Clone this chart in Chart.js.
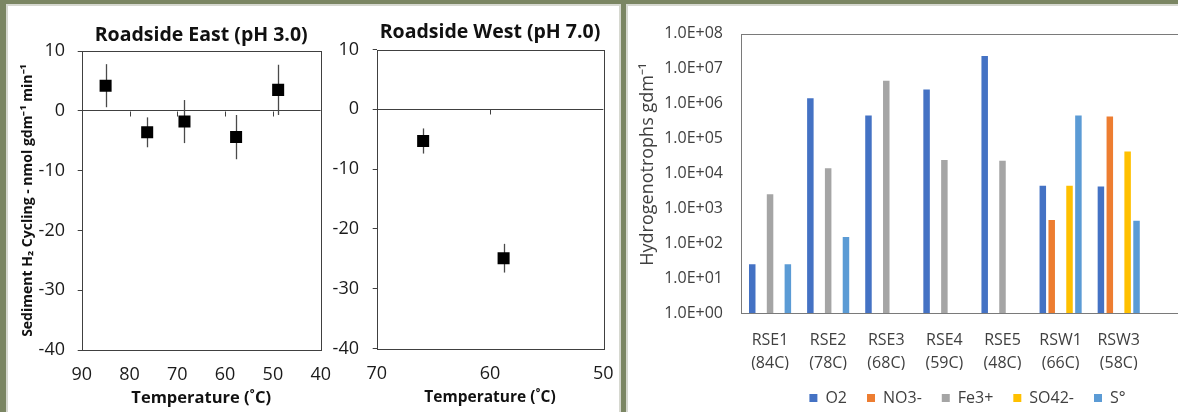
<!DOCTYPE html>
<html><head><meta charset="utf-8">
<script src="https://cdn.jsdelivr.net/npm/chart.js@4"></script>
<style>
html,body{margin:0;padding:0;width:1178px;height:412px;overflow:hidden;background:#7b8663;}
.panel{position:absolute;background:#fff;border:2px solid #d6d8d0;box-sizing:border-box;}
canvas{position:absolute;}
</style></head><body>
<div class="panel" style="left:6px;top:4px;width:615px;height:420px"></div>
<div class="panel" style="left:626px;top:4px;width:600px;height:420px"></div>
<canvas id="c1" width="330" height="406" style="left:7px;top:6px"></canvas>
<canvas id="c2" width="284" height="406" style="left:332px;top:6px"></canvas>
<canvas id="c3" width="679" height="410" style="left:628px;top:6px"></canvas>
<script>
// ---------- data ----------
const eastTemps = [85, 76.3, 68.5, 57.7, 48.9];
const eastRates = [4.2, -3.6, -1.8, -4.4, 3.5];
const eastErrors = [3.6, 2.5, 3.6, 3.7, 4.2];
const westTemps = [65.9, 58.8];
const westRates = [-5.3, -24.9];
const westErrors = [2.1, 2.4];
const rateTicks = [10, 0, -10, -20, -30, -40];
const eastTempTicks = [90, 80, 70, 60, 50, 40];
const westTempTicks = [70, 60, 50];

const siteNames = ['RSE1', 'RSE2', 'RSE3', 'RSE4', 'RSE5', 'RSW1', 'RSW3', '', ''];
const siteTemps = ['(84C)', '(78C)', '(68C)', '(59C)', '(48C)', '(66C)', '(58C)', '', ''];
const o2 =   [25, 1.4e6, 4.5e5, 2.5e6, 2.3e7, 4.4e3, 4.2e3, null, null];
const no3 =  [null, null, null, null, null, 4.6e2, 4.2e5, null, null];
const fe3 =  [2.5e3, 1.4e4, 4.5e6, 2.4e4, 2.3e4, null, null, null, null];
const so4 =  [null, null, null, null, null, 4.4e3, 4.2e4, null, null];
const s0 =   [25, 150, null, null, null, 4.5e5, 4.4e2, null, null];
const logTickValues = [1, 10, 100, 1e3, 1e4, 1e5, 1e6, 1e7, 1e8];
const logTickLabels = ['1.0E+00','1.0E+01','1.0E+02','1.0E+03','1.0E+04','1.0E+05','1.0E+06','1.0E+07','1.0E+08'];
const seriesNames = ['O2', 'NO3-', 'Fe3+', 'SO42-', 'S°'];
const seriesColors = ['#4472C4', '#ED7D31', '#A5A5A5', '#FFC000', '#5B9BD5'];

// ---------- setup ----------
Chart.defaults.font.family = "'Open Sans', sans-serif";
Chart.defaults.font.size = 16;
Chart.defaults.animation = false;

const framePlugin = {
  id: 'frame',
  beforeDatasetsDraw(chart, args, opts) {
    const {ctx, chartArea: a} = chart;
    ctx.save();
    ctx.strokeStyle = opts.color || '#404040';
    ctx.lineWidth = 1;
    ctx.strokeRect(Math.round(a.left) + 0.5, Math.round(a.top) + 0.5,
      Math.round(a.right - a.left), Math.round(a.bottom - a.top));
    ctx.restore();
  }
};
const errorBarPlugin = {
  id: 'errorBars',
  beforeDatasetsDraw(chart, args, opts) {
    const errs = opts.errors; if (!errs) return;
    const {ctx, scales: {x, y}} = chart;
    const pts = chart.data.datasets[0].data;
    ctx.save();
    ctx.strokeStyle = '#4a4a4a';
    ctx.lineWidth = 1.3;
    pts.forEach((p, i) => {
      const px = Math.round(x.getPixelForValue(p.x)) + 0.5;
      ctx.beginPath();
      ctx.moveTo(px, y.getPixelForValue(p.y + errs[i]));
      ctx.lineTo(px, y.getPixelForValue(p.y - errs[i]));
      ctx.stroke();
    });
    ctx.restore();
  }
};
const crossTickPlugin = {
  id: 'crossTicks',
  beforeDatasetsDraw(chart) {
    const {ctx, scales: {x, y}} = chart;
    const y0 = Math.round(y.getPixelForValue(0)) + 0.5;
    ctx.save();
    ctx.strokeStyle = '#404040';
    ctx.lineWidth = 1;
    x.ticks.forEach(t => {
      if (t.value === x.min || t.value === x.max) return;
      const px = Math.round(x.getPixelForValue(t.value)) + 0.5;
      ctx.beginPath(); ctx.moveTo(px, y0); ctx.lineTo(px, y0 + 5); ctx.stroke();
    });
    ctx.restore();
  }
};

function scatterChart(id, cfg) {
  const xTitleLh = cfg.xTitleSize * 1.2;
  return new Chart(document.getElementById(id), {
    type: 'scatter',
    data: {
      datasets: [{
        data: cfg.temps.map((t, i) => ({x: t, y: cfg.rates[i]})),
        pointStyle: 'rect', pointRadius: 8.5, pointHoverRadius: 8.5,
        backgroundColor: '#000', borderColor: '#000', borderWidth: 0
      }]
    },
    plugins: [framePlugin, errorBarPlugin, crossTickPlugin],
    options: {
      responsive: false,
      devicePixelRatio: 1,
      layout: {padding: {left: 0, right: cfg.padRight, top: 0, bottom: 0}},
      plugins: {
        legend: {display: false},
        tooltip: {enabled: false},
        title: {display: true, text: cfg.title, fullSize: false, color: '#111',
          font: {size: 19.5, weight: 'bold'}, padding: cfg.titlePad},
        errorBars: {errors: cfg.errors},
        frame: {color: '#404040'}
      },
      scales: {
        x: {
          type: 'linear', min: cfg.xMin, max: cfg.xMax, reverse: true,
          afterBuildTicks: s => { s.ticks = cfg.xTicks.map(v => ({value: v})); },
          afterFit: s => { s.height = cfg.xHeight; },
          grid: {display: true, drawOnChartArea: false, drawTicks: true, tickLength: 14,
            color: 'rgba(0,0,0,0)', tickColor: 'rgba(0,0,0,0)'},
          border: {display: false},
          ticks: {padding: 0.2, color: '#1a1a1a', font: {size: 18}, maxRotation: 0},
          title: {display: true, text: 'Temperature (˚C)', color: '#111',
            font: {size: cfg.xTitleSize, weight: 'bold'},
            padding: {top: 0, bottom: 14 - xTitleLh / 2}}
        },
        y: {
          min: -40, max: 10,
          afterBuildTicks: s => { s.ticks = rateTicks.map(v => ({value: v})); },
          afterFit: s => { s.width = cfg.yWidth; },
          grid: {color: c => (c.tick && c.tick.value === 0) ? '#404040' : 'rgba(0,0,0,0)',
            tickColor: '#404040', tickLength: 4, drawTicks: true},
          border: {display: false},
          ticks: {padding: cfg.yTickPad, color: '#1a1a1a', font: {size: 18}},
          title: {display: !!cfg.yTitle, text: cfg.yTitle || '', color: '#111',
            font: {size: 14, weight: 'bold'}, padding: {top: 12.6, bottom: 0}}
        }
      }
    }
  });
}

scatterChart('c1', {
  title: 'Roadside East (pH 3.0)', temps: eastTemps, rates: eastRates, errors: eastErrors,
  xMin: 40, xMax: 90, xTicks: eastTempTicks, padRight: 16.3, xHeight: 62, yWidth: 74.7,
  yTickPad: 12.7, titlePad: {top: 17.3, bottom: 4.3}, xTitleSize: 16.5,
  yTitle: 'Sediment H₂ Cycling - nmol gdm⁻¹ min⁻¹'
});
scatterChart('c2', {
  title: 'Roadside West (pH 7.0)', temps: westTemps, rates: westRates, errors: westErrors,
  xMin: 50, xMax: 70, xTicks: westTempTicks, padRight: 12.7, xHeight: 63.5, yWidth: 44.7,
  yTickPad: 13.7, titlePad: {top: 14.3, bottom: 5.8}, xTitleSize: 15.5
});

new Chart(document.getElementById('c3'), {
  type: 'bar',
  data: {
    labels: siteNames.map((n, i) => [n, siteTemps[i]]),
    datasets: [o2, no3, fe3, so4, s0].map((d, i) => ({
      label: seriesNames[i], data: d, backgroundColor: seriesColors[i], borderWidth: 0,
      categoryPercentage: 0.766, barPercentage: 0.73
    }))
  },
  plugins: [framePlugin],
  options: {
    responsive: false,
    devicePixelRatio: 1,
    layout: {padding: {left: 0, right: 0, top: 16, bottom: 0}},
    plugins: {
      tooltip: {enabled: false},
      frame: {color: '#7a7a7a'},
      legend: {position: 'bottom', align: 'center',
        labels: {boxWidth: 8, boxHeight: 8, padding: 20, color: '#404040', font: {size: 16}}}
    },
    scales: {
      x: {
        grid: {display: false, drawTicks: false},
        border: {display: false},
        afterFit: s => { s.height = 57; },
        ticks: {padding: 15.5, color: '#404040', autoSkip: false, maxRotation: 0,
          font: {size: 16, lineHeight: 1.44}}
      },
      y: {
        type: 'logarithmic', min: 1, max: 1e8,
        afterBuildTicks: s => { s.ticks = logTickValues.map(v => ({value: v})); },
        afterFit: s => { s.width = 113; },
        grid: {display: false, drawTicks: false},
        border: {display: false},
        ticks: {padding: 18, color: '#404040', font: {size: 16},
          callback: (v, i) => logTickLabels[i]},
        title: {display: true, text: '\u2002\u2002Hydrogenotrophs gdm⁻¹', color: '#404040',
          font: {size: 18}, padding: {top: 9.2, bottom: 0}}
      },
      rightMargin: {
        position: 'right', display: true,
        afterFit: s => { s.width = 43; },
        grid: {display: false, drawTicks: false},
        border: {display: false},
        ticks: {display: false}
      }
    }
  }
});
</script>
</body></html>
